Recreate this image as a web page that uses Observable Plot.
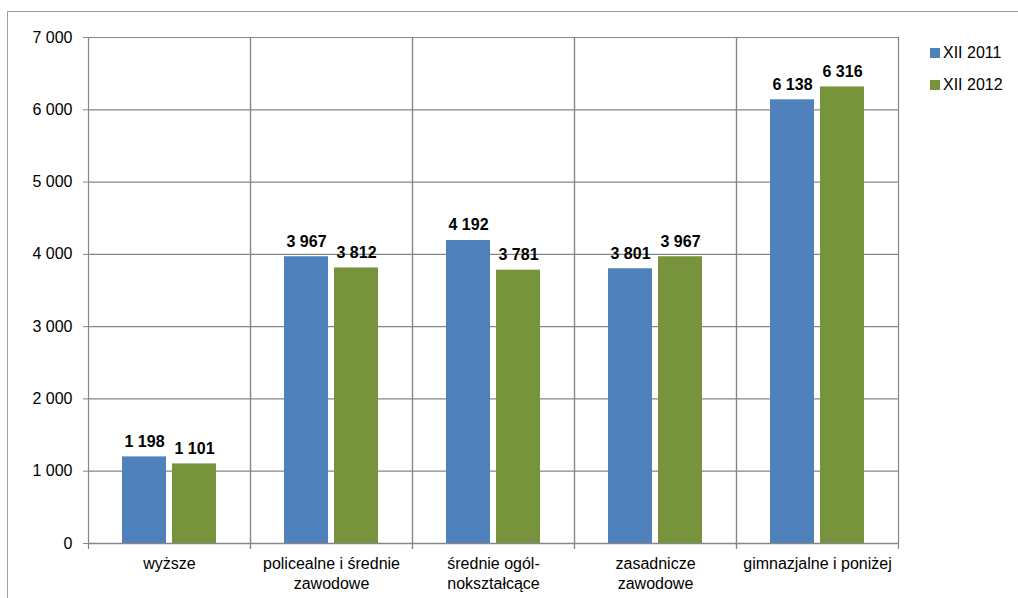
<!DOCTYPE html>
<html>
<head>
<meta charset="utf-8">
<script src="https://cdn.jsdelivr.net/npm/d3@7"></script>
<script src="https://cdn.jsdelivr.net/npm/@observablehq/plot@0.6"></script>
<style>
  html, body { margin: 0; padding: 0; background: #fff; }
  #wrap { position: relative; width: 1018px; height: 598px; overflow: hidden; font-family: "Liberation Sans", Arial, sans-serif; }
  #border { position: absolute; left: 7px; top: 11px; width: 1200px; height: 800px; border: 1px solid #a0a0a0; box-sizing: border-box; }
  #chart { position: absolute; left: 0; top: 0; }
  #legend { position: absolute; left: 930px; top: 37px; font-size: 16px; color: #000; }
  .item { display: flex; align-items: center; height: 32px; }
  .sw { width: 10px; height: 10px; margin-right: 3px; }
</style>
</head>
<body>
<div id="wrap">
  <div id="border"></div>
  <div id="chart"></div>
  <div id="legend"></div>
</div>
<script>
const categories = ["wyższe", "policealne i średnie\nzawodowe", "średnie ogól-\nnokształcące", "zasadnicze\nzawodowe", "gimnazjalne i poniżej"];
const series = ["XII 2011", "XII 2012"];
const values2011 = [1198, 3967, 4192, 3801, 6138];
const values2012 = [1101, 3812, 3781, 3967, 6316];
const colors = ["#4F81BD", "#77933C"];
const yTicks = [0, 1000, 2000, 3000, 4000, 5000, 6000, 7000];

const data = [];
categories.forEach((c, i) => {
  data.push({cat: c, series: series[0], value: values2011[i]});
  data.push({cat: c, series: series[1], value: values2012[i]});
});

const fmt = d3.formatLocale({thousands: " ", grouping: [3], decimal: ","}).format(",d");
const gridColor = "#868686";

const chart = Plot.plot({
  width: 1018,
  height: 598,
  marginLeft: 88,
  marginRight: 120,
  marginTop: 37,
  marginBottom: 55,
  style: {fontFamily: "'Liberation Sans', Arial, sans-serif", fontSize: "16px", color: "#000", background: "transparent"},
  fx: {domain: categories, padding: 0},
  x: {domain: series, paddingInner: 0.12, paddingOuter: 0.68, axis: null},
  y: {domain: [0, 7000], axis: null},
  color: {domain: series, range: colors},
  marks: [
    Plot.gridY(yTicks, {stroke: gridColor, strokeOpacity: 1, strokeWidth: 1.2}),
    Plot.frame({anchor: "left", stroke: gridColor, strokeWidth: 1.2, insetBottom: -5}),
    Plot.frame({anchor: "right", stroke: gridColor, strokeWidth: 1.2, insetBottom: -5}),
    Plot.barY(data, {fx: "cat", x: "series", y: "value", fill: "series"}),
    Plot.ruleY([0], {stroke: gridColor, strokeWidth: 1.5}),
    Plot.axisY(yTicks, {tickFormat: fmt, tickSize: 5, tickPadding: 11, stroke: gridColor, label: null, fontSize: 16, fill: "#000"}),
    Plot.axisFx({anchor: "bottom", tickSize: 0, tickPadding: 11, label: null, lineHeight: 1.25, fontSize: 16, fill: "#000"}),
    Plot.text(data, {fx: "cat", x: "series", y: "value", text: d => fmt(d.value), lineAnchor: "bottom", dy: -10, fontWeight: "bold", fontSize: 16, fill: "#000"})
  ]
});
document.getElementById("chart").appendChild(chart);

const legend = document.getElementById("legend");
series.forEach((s, i) => {
  const it = document.createElement("div");
  it.className = "item";
  const sw = document.createElement("div");
  sw.className = "sw";
  sw.style.background = colors[i];
  const t = document.createElement("span");
  t.textContent = s;
  it.appendChild(sw);
  it.appendChild(t);
  legend.appendChild(it);
});
</script>
</body>
</html>
